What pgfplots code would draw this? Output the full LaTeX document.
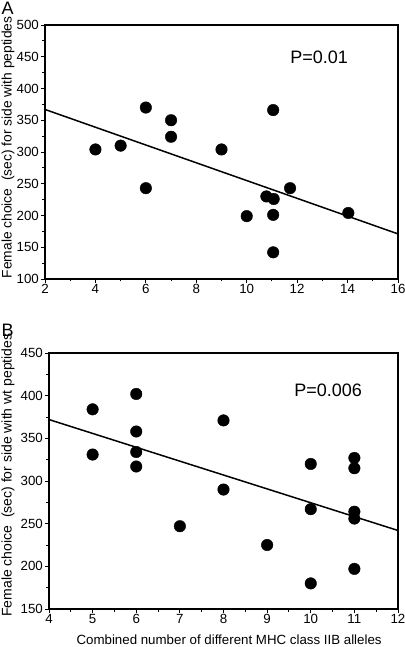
\documentclass[border=0pt]{standalone}
\usepackage{fontspec}
\setmainfont{Liberation Sans}
\usepackage{pgfplots}
\pgfplotsset{compat=1.18}
\begin{document}
\begin{tikzpicture}
\useasboundingbox (0,0) rectangle (405bp,647bp);
\pgfplotsset{
  myaxis/.style={
    scale only axis,
    axis line style={line width=1.2bp},
    tick align=outside,
    tick pos=left,
    major tick length=4bp,
    minor tick length=2.5bp,
    every tick/.style={black, line width=0.9bp},
    minor tick num=1,
    tick label style={font=\fontsize{13.3bp}{15bp}\selectfont},
    /pgf/number format/assume math mode=true,
    xticklabel style={inner sep=1bp, yshift=-0.5bp},
    yticklabel style={inner sep=1.5bp, xshift=-0.5bp},
    clip=false,
  },
  dots/.style={only marks, mark=*, mark size=5.8pt, mark options={fill=black, draw=black}},
  fit/.style={black, line width=1.5bp, no marks},
}
% Panel A
\begin{axis}[myaxis,
  at={(45bp,368bp)}, anchor=south west,
  width=353bp, height=254bp,
  xmin=2, xmax=16, ymin=100, ymax=500,
  xtick={2,4,...,16}, ytick={100,150,...,500},
  every axis y label/.style={at={(rel axis cs:-0.1048,0.518)}, rotate=90, anchor=center, font=\fontsize{13.8bp}{16bp}\selectfont},
  ylabel={Female choice~~(sec) for side with peptides},
]
\addplot[fit] coordinates {(2,367) (16,171)};
\addplot[dots] coordinates {
(4,304) (5,310) (6,370) (6,243) (7,350) (7,324) (9,304) (10,199)
(10.78,230) (11.07,226) (11.05,201) (11.05,142) (11.05,366) (11.72,243) (14.03,204)};
\node[anchor=base west, font=\fontsize{18bp}{20bp}\selectfont, inner sep=0pt] at (axis cs:11.72,438.6) {P=0.01};
\end{axis}
% Panel B
\begin{axis}[myaxis,
  at={(49bp,38bp)}, anchor=south west,
  width=349bp, height=256bp,
  xmin=4, xmax=12, ymin=150, ymax=450,
  xtick={4,5,...,12}, ytick={150,200,...,450},
  every axis y label/.style={at={(rel axis cs:-0.1175,0.523)}, rotate=90, anchor=center, font=\fontsize{14bp}{16bp}\selectfont},
  ylabel={Female choice~~(sec) for side with wt peptides},
  every axis x label/.style={at={(rel axis cs:0.516,-0.1406)}, anchor=base, font=\fontsize{13.3bp}{15bp}\selectfont},
  xlabel={Combined number of different MHC class IIB alleles},
]
\addplot[fit] coordinates {(4,372) (12,242)};
\addplot[dots] coordinates {
(5,384) (5,331) (6,402) (6,358) (6,334) (6,317) (7,247) (8,371) (8,290)
(9,225) (10,320) (10,267) (10,180) (11,327) (11,315) (11,264) (11,256) (11,197)};
\node[anchor=base west, font=\fontsize{18bp}{20bp}\selectfont, inner sep=0pt] at (axis cs:9.62,399.6) {P=0.006};
\end{axis}
\node[anchor=base west, inner sep=0pt, font=\fontsize{18bp}{20bp}\selectfont] at (1.5bp,632bp) {A};
\node[anchor=base west, inner sep=0pt, font=\fontsize{18bp}{20bp}\selectfont] at (1.5bp,310bp) {B};
\end{tikzpicture}
\end{document}
